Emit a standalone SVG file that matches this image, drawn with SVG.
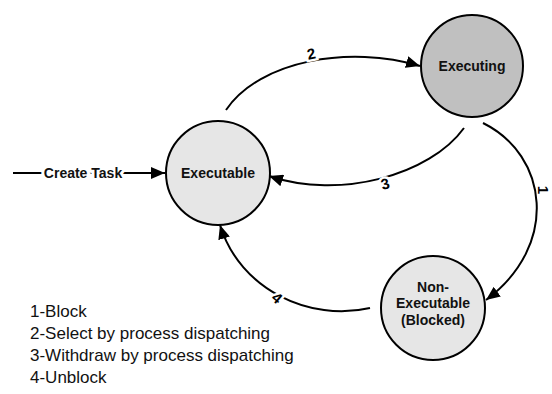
<svg xmlns="http://www.w3.org/2000/svg" width="552" height="394" viewBox="0 0 552 394">
<style>
.node{stroke:#000;stroke-width:2}
.lt{fill:#e6e6e6}
.dk{fill:#c0c0c0}
.nt{font-family:"Liberation Sans",Arial,sans-serif;font-weight:bold;font-size:14px;fill:#111;text-anchor:middle}
.edge{fill:none;stroke:#000;stroke-width:2}
.lbl{font-family:"Liberation Sans",Arial,sans-serif;font-weight:bold;font-size:15px;fill:#000;text-anchor:middle;stroke:#fff;stroke-width:5;paint-order:stroke}
.leg{font-family:"Liberation Sans",Arial,sans-serif;font-size:17px;fill:#111}
</style>
<defs>
<marker id="ah" markerUnits="userSpaceOnUse" markerWidth="15" markerHeight="12" refX="14" refY="6" orient="auto">
<path d="M0,0 L14,6 L0,12 z" fill="#000"/>
</marker>
</defs>
<g id="edges">
<path class="edge" d="M13,173 L165,173" marker-end="url(#ah)"/>
<text class="nt" x="83" y="178" style="stroke:#fff;stroke-width:6;paint-order:stroke;text-anchor:middle">Create Task</text>
<path class="edge" d="M226,110 C260,60 350,45 420,66" marker-end="url(#ah)"/>
<path class="edge" d="M464,128 C430,175 340,200 269,176" marker-end="url(#ah)"/>
<path class="edge" d="M483,123 C548,155 560,245 486,300" marker-end="url(#ah)"/>
<path class="edge" d="M370,308 C310,322 240,290 220,225" marker-end="url(#ah)"/>
<text class="lbl" x="311" y="59" transform="rotate(-12 311 53)">2</text>
<text class="lbl" x="385" y="189" transform="rotate(-15 385 183)">3</text>
<text class="lbl" x="543" y="195" transform="rotate(90 543 190)" style="stroke-width:0">1</text>
<text class="lbl" x="277" y="303" transform="rotate(40 277 298)">4</text>
</g>
<g id="executable">
<circle class="node lt" cx="218" cy="173" r="52"/>
<text class="nt" x="218" y="178">Executable</text>
</g>
<g id="executing">
<circle class="node dk" cx="472" cy="66" r="51"/>
<text class="nt" x="472" y="71">Executing</text>
</g>
<g id="nonexecutable">
<circle class="node lt" cx="433" cy="308" r="52"/>
<text class="nt" x="433" y="292">Non-</text>
<text class="nt" x="433" y="308">Executable</text>
<text class="nt" x="433" y="325">(Blocked)</text>
</g>
<g id="legend">
<text class="leg" x="30" y="317">1-Block</text>
<text class="leg" x="30" y="339">2-Select by process dispatching</text>
<text class="leg" x="30" y="361">3-Withdraw by process dispatching</text>
<text class="leg" x="30" y="383">4-Unblock</text>
</g>
</svg>
